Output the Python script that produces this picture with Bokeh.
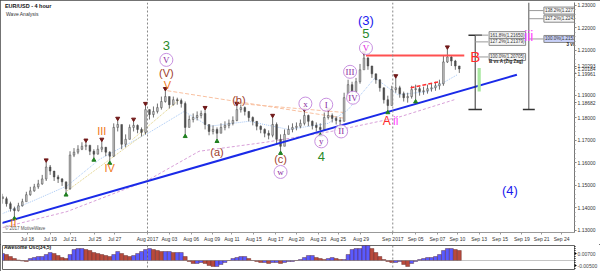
from bokeh.plotting import figure
from bokeh.models import Range1d, FixedTicker, PrintfTickFormatter, Span
from bokeh.layouts import column
from bokeh.embed import file_html
from bokeh.resources import INLINE
from bokeh.core.properties import value

FONT = "Liberation Sans"

# ---------------- price data (4-hour bars) ----------------
closes = [1.1441, 1.1419, 1.1397, 1.1388, 1.1410, 1.1428, 1.1459, 1.1476, 1.1494, 1.1507,
          1.1529, 1.1582, 1.1564, 1.1538, 1.1529, 1.1516, 1.1485, 1.1635, 1.1648, 1.1661,
          1.1674, 1.1679, 1.1652, 1.1639, 1.1661, 1.1670, 1.1648, 1.1630, 1.1758, 1.1771,
          1.1683, 1.1705, 1.1758, 1.1767, 1.1749, 1.1736, 1.1837, 1.1815, 1.1829, 1.1846,
          1.1873, 1.1895, 1.1859, 1.1881, 1.1877, 1.1864, 1.1758, 1.1793, 1.1802, 1.1811,
          1.1820, 1.1771, 1.1740, 1.1749, 1.1732, 1.1758, 1.1767, 1.1776, 1.1789, 1.1837,
          1.1846, 1.1829, 1.1802, 1.1785, 1.1763, 1.1749, 1.1732, 1.1723, 1.1771, 1.1705,
          1.1674, 1.1727, 1.1749, 1.1758, 1.1763, 1.1776, 1.1811, 1.1785, 1.1767, 1.1758,
          1.1749, 1.1802, 1.1811, 1.1798, 1.1789, 1.1785, 1.1890, 1.1948, 1.1917, 1.1961,
          1.2014, 1.2066, 1.2031, 1.1996, 1.1970, 1.1934, 1.1881, 1.1855, 1.1926, 1.1934,
          1.1908, 1.1890, 1.1895, 1.1926, 1.1930, 1.1917, 1.1921, 1.1930, 1.1934, 1.1943,
          1.1952, 1.2049, 1.2071, 1.2053, 1.2031, 1.2018]
highs = [1.1463, 1.1450, 1.1428, 1.1406, 1.1423, 1.1441, 1.1472, 1.1494, 1.1507, 1.1525,
         1.1547, 1.1604, 1.1591, 1.1564, 1.1547, 1.1533, 1.1511, 1.1652, 1.1666, 1.1679,
         1.1692, 1.1692, 1.1674, 1.1661, 1.1679, 1.1696, 1.1670, 1.1652, 1.1776, 1.1789,
         1.1767, 1.1727, 1.1771, 1.1785, 1.1771, 1.1758, 1.1855, 1.1837, 1.1851, 1.1864,
         1.1895, 1.1921, 1.1890, 1.1895, 1.1890, 1.1886, 1.1873, 1.1811, 1.1820, 1.1829,
         1.1833, 1.1837, 1.1763, 1.1767, 1.1758, 1.1776, 1.1785, 1.1793, 1.1807, 1.1855,
         1.1859, 1.1851, 1.1829, 1.1807, 1.1785, 1.1767, 1.1754, 1.1745, 1.1802, 1.1780,
         1.1727, 1.1749, 1.1767, 1.1776, 1.1780, 1.1793, 1.1829, 1.1815, 1.1789, 1.1780,
         1.1776, 1.1824, 1.1829, 1.1820, 1.1807, 1.1802, 1.1912, 1.1970, 1.1961, 1.1978,
         1.2040, 1.2080, 1.2071, 1.2031, 1.1996, 1.1970, 1.1934, 1.1899, 1.1943, 1.1978,
         1.1943, 1.1917, 1.1912, 1.1943, 1.1948, 1.1939, 1.1939, 1.1948, 1.1952, 1.1961,
         1.1970, 1.2075, 1.2106, 1.2075, 1.2058, 1.2031]
lows = [1.1419, 1.1406, 1.1384, 1.1362, 1.1384, 1.1406, 1.1432, 1.1454, 1.1472, 1.1485,
        1.1503, 1.1520, 1.1547, 1.1520, 1.1511, 1.1498, 1.1467, 1.1481, 1.1626, 1.1639,
        1.1657, 1.1657, 1.1635, 1.1622, 1.1639, 1.1648, 1.1630, 1.1608, 1.1626, 1.1740,
        1.1661, 1.1670, 1.1705, 1.1740, 1.1732, 1.1718, 1.1727, 1.1793, 1.1802, 1.1820,
        1.1837, 1.1868, 1.1842, 1.1855, 1.1859, 1.1846, 1.1727, 1.1767, 1.1780, 1.1789,
        1.1798, 1.1749, 1.1723, 1.1727, 1.1705, 1.1736, 1.1745, 1.1754, 1.1767, 1.1785,
        1.1824, 1.1811, 1.1785, 1.1767, 1.1745, 1.1732, 1.1714, 1.1705, 1.1714, 1.1683,
        1.1652, 1.1701, 1.1732, 1.1736, 1.1745, 1.1754, 1.1767, 1.1763, 1.1749, 1.1740,
        1.1732, 1.1745, 1.1793, 1.1780, 1.1771, 1.1767, 1.1785, 1.1899, 1.1899, 1.1908,
        1.1952, 1.2022, 1.2014, 1.1978, 1.1952, 1.1917, 1.1864, 1.1833, 1.1859, 1.1912,
        1.1890, 1.1873, 1.1868, 1.1886, 1.1881, 1.1899, 1.1903, 1.1908, 1.1917, 1.1921,
        1.1926, 1.1943, 1.2044, 1.2031, 1.2014, 1.2000]
first_open = 1.1450
opens = [first_open] + closes[:-1]          # FX 4h bars open at the previous close
bars = list(range(len(closes)))

# Awesome Oscillator (34,5) per bar
ao = [0.007, 0.006, 0.004, 0.002, 0.0005, -0.0005, -0.001, 0.002, 0.003, 0.004,
      0.004, 0.006, 0.008, 0.007, 0.005, 0.003, 0.002, 0.006, 0.011, 0.012,
      0.012, 0.011, 0.010, 0.008, 0.007, 0.006, 0.005, 0.004, 0.006, 0.009,
      0.007, 0.005, 0.004, 0.005, 0.007, 0.009, 0.011, 0.012, 0.011, 0.010,
      0.009, 0.009, 0.009, 0.008, 0.008, 0.008, 0.004, -0.001, -0.003, -0.003,
      -0.002, -0.003, -0.005, -0.006, -0.006, -0.004, -0.002, 0.0, 0.002, 0.003,
      0.004, 0.004, 0.002, 0.0, -0.001, -0.002, -0.002, -0.003, -0.002, -0.002,
      -0.003, -0.002, -0.001, -0.001, 0.0, 0.001, 0.003, 0.005, 0.005, 0.003,
      0.002, 0.001, 0.002, 0.003, 0.002, 0.001, 0.001, 0.006, 0.011, 0.012,
      0.012, 0.015, 0.015, 0.012, 0.008, 0.004, 0.001, -0.001, -0.002, -0.002,
      -0.001, -0.004, -0.006, -0.003, -0.001, 0.001, 0.002, 0.003, 0.003, 0.004,
      0.006, 0.010, 0.012, 0.012, 0.011, 0.010]

# x-axis date labels (bar positions)
tick_pos = [6.25, 12, 17, 23.25, 28.25, 36.5, 42, 47.5, 52.75, 57.75, 63.25, 68.75, 74,
            79.5, 84.5, 90.25, 98.25, 104, 109.5, 114.5, 120, 125.25, 130.75, 135.75, 140.75]
tick_labels = ["Jul 18", "Jul 19", "Jul 21", "Jul 25", "Jul 27", "Aug 2017", "Aug 03", "Aug 06",
               "Aug 09", "Aug 11", "Aug 15", "Aug 17", "Aug 20", "Aug 23", "Aug 25", "Aug 29",
               "Sep 2017", "Sep 05", "Sep 07", "Sep 10", "Sep 13", "Sep 15", "Sep 19", "Sep 21",
               "Sep 24"]
month_lines = [36.5, 98.25]
price_ticks = [1.13, 1.14, 1.15, 1.16, 1.17, 1.18, 1.19, 1.21, 1.22, 1.23]
# price markers shown on the right axis
axis_marks = [1.20293, 1.20184, 1.19961, 1.18682]
ao_ticks = [-0.005, 0.007]

peak_bars = [11, 21, 25, 29, 33, 36, 41, 51, 59, 68, 76, 82, 91, 99, 112]
trough_bars = [3, 16, 23, 27, 46, 54, 70, 80, 85, 97, 104]

# indicator / drawing lines (bar, price)
fast_ma_x = [0, 7.75, 16.25, 24.5, 37, 45.75, 52, 62, 72, 82, 87, 93.75, 99.5, 107, 114.5]
fast_ma_y = [1.1375, 1.1432, 1.1498, 1.1617, 1.1736, 1.1829, 1.1763, 1.1785, 1.1749, 1.1776,
             1.1837, 1.1978, 1.1903, 1.1917, 1.1992]
slow_ma_x = [0, 16.25, 36.25, 49.5, 66.25, 82.75, 99.5, 113.75]
slow_ma_y = [1.1313, 1.1384, 1.1520, 1.1652, 1.1692, 1.1740, 1.1802, 1.1881]
trend_x = [-0.5, 129.5]
trend_y = [1.1331, 1.1992]
resist_x = [91.5, 116.25]
resist_y = [1.2078, 1.2078]
red_dash_x = [102.75, 110]
red_dash_y = [1.1934, 1.1961]
peach_lines = [([41.5, 86.25], [1.1921, 1.1798]), ([59.5, 86.25], [1.1864, 1.1824])]
yellow_lines = [([16.25, 36.25], [1.1476, 1.1736]), ([32.75, 44.5], [1.1705, 1.1881])]

# wave labels: text, bar, price, colour, font size
wave_labels = [
    ("II", 2.75, 1.1331, "#f07818", "11px"), ("III", 25, 1.1740, "#f07818", "11px"),
    ("IV", 27, 1.1578, "#f07818", "11px"), ("V", 41.5, 1.1948, "#f07818", "11px"),
    ("(V)", 41.25, 1.2000, "#a0402a", "11px"), ("(a)", 54, 1.1648, "#a0402a", "11px"),
    ("(b)", 59.5, 1.1881, "#a0402a", "11px"), ("(c)", 70, 1.1617, "#a0402a", "11px"),
    ("3", 41.25, 1.2124, "#2a8a2a", "13px"), ("4", 80.25, 1.1630, "#2a8a2a", "13px"),
    ("5", 91.5, 1.2177, "#2a8a2a", "13px"), ("(3)", 91.5, 1.2234, "#1a1aee", "13px"),
    ("(4)", 127.75, 1.1476, "#1a1aee", "13px"), ("A", 96.75, 1.1785, "#ff2a2a", "12px"),
    ("B", 119, 1.2071, "#ff2a2a", "15px"), ("ii", 99, 1.1785, "#ff44ff", "12px"),
    ("iii", 132.5, 1.2163, "#ff44ff", "14px"),
]
circle_labels = [
    ("V", 41.25, 1.2058, "#8a2aa0"), ("w", 70, 1.1560, "#8a2aa0"), ("x", 76.25, 1.1864, "#8a2aa0"),
    ("y", 80.25, 1.1696, "#8a2aa0"), ("I", 81.5, 1.1859, "#8a2aa0"), ("II", 85.25, 1.1740, "#8a2aa0"),
    ("III", 87.5, 1.2005, "#8a2aa0"), ("IV", 88.25, 1.1890, "#8a2aa0"), ("V", 91.5, 1.2111, "#e020e0"),
]

# Fibonacci projection tools
fib1_bar = 119
fib1_span = [1.2168, 1.1837]
fib1_levels = [1.2168, 1.2138, 1.2071]
fib1_texts = ["161.8%(1.21650)", "127.2%(1.21379)", "100.0%(1.20705)"]
fib2_bar = 132.5
fib2_span = [1.2313, 1.1837]
fib2_levels = [1.22771, 1.22410, 1.21510]
fib2_texts = ["138.2%(1.22771)", "127.2%(1.22410)", "100.0%(1.21510)"]
green_zone = [1.2022, 1.1917]

# ---------------- main price panel ----------------
p1 = figure(width=600, height=244, x_range=Range1d(0, 144), y_range=Range1d(1.1291, 1.2313),
            output_backend="svg", toolbar_location=None, y_axis_location="right",
            min_border_left=2, min_border_top=2, min_border_right=22, min_border_bottom=0)
p1.grid.visible = False
p1.outline_line_color = None
p1.background_fill_color = "white"
p1.border_fill_color = "white"

ya = p1.yaxis[0]
ya.ticker = FixedTicker(ticks=price_ticks + axis_marks,
                        minor_ticks=[1.13 + 0.002 * k for k in range(0, 51)])
ya.formatter = PrintfTickFormatter(format="%.5f")
ya.major_label_text_font = FONT
ya.major_label_text_font_size = "5px"
ya.major_label_text_color = "#333"
ya.major_tick_out = 2
ya.major_tick_in = 0
ya.minor_tick_out = 1
ya.minor_tick_in = 0
ya.major_label_standoff = 1
ya.axis_line_color = "#777"
ya.major_tick_line_color = "#777"
ya.minor_tick_line_color = "#999"

xa = p1.xaxis[0]
xa.ticker = FixedTicker(ticks=tick_pos)
xa.major_label_overrides = dict(zip(tick_pos, tick_labels))
xa.major_label_text_font = FONT
xa.major_label_text_font_size = "5px"
xa.major_label_text_color = "#333"
xa.major_tick_out = 2
xa.major_tick_in = 0
xa.minor_tick_line_color = None
xa.major_label_standoff = 1
xa.axis_line_color = "#999"
xa.major_tick_line_color = "#999"

for m in month_lines:
    p1.add_layout(Span(location=m, dimension="height", line_color="#888",
                       line_dash="2 2", line_width=1))

# indicator lines
p1.line(slow_ma_x, slow_ma_y, line_color="#d8a0d8", line_dash="3 2", line_width=1)
p1.line(fast_ma_x, fast_ma_y, line_color="#a8c8f4", line_dash="1 1", line_width=1)
for xs, ys in peach_lines:
    p1.line(xs, ys, line_color="#f8c0a0", line_dash="4 2", line_width=1)
for xs, ys in yellow_lines:
    p1.line(xs, ys, line_color="#e0d080", line_dash="1 1", line_width=1)

# candles
up = [c >= o for o, c in zip(opens, closes)]
p1.segment(x0=bars, y0=lows, x1=bars, y1=highs, line_color="#707070", line_width=1)
p1.vbar(x=bars, width=0.42, top=[max(o, c) for o, c in zip(opens, closes)],
        bottom=[min(o, c) for o, c in zip(opens, closes)],
        fill_color=["#c8c8c8" if u else "#505050" for u in up], line_color="#444",
        line_width=0.5)

# trend / resistance lines
p1.line(trend_x, trend_y, line_color="#1a2ae8", line_width=2)
p1.line(resist_x, resist_y, line_color="#ff5050", line_width=2)
p1.line(red_dash_x, red_dash_y, line_color="#ff3030", line_width=1.5, line_dash="4 2")

# swing markers
p1.scatter([bars[i] for i in peak_bars], [highs[i] + 0.0009 for i in peak_bars],
           marker="inverted_triangle", size=4, fill_color="#701818", line_color="#701818")
p1.scatter([bars[i] for i in trough_bars], [lows[i] - 0.0009 for i in trough_bars],
           marker="triangle", size=4, fill_color="#208020", line_color="#208020")

# fib tool 1
p1.segment(x0=[fib1_bar], y0=[fib1_span[0]], x1=[fib1_bar], y1=[fib1_span[1]],
           line_color="#333", line_width=1)
p1.segment(x0=[fib1_bar - 1.7] * 2, y0=fib1_span, x1=[fib1_bar + 1.7] * 2, y1=fib1_span,
           line_color="#333", line_width=1.5)
p1.segment(x0=[fib1_bar] * 3, y0=fib1_levels, x1=[fib1_bar + 3.3] * 3, y1=fib1_levels,
           line_color="#999", line_width=1)
p1.text(x=[fib1_bar + 3.5] * 3, y=fib1_levels, text=fib1_texts, text_font=value(FONT),
        text_font_size="4.5px", text_color="#333", text_baseline="middle", text_align="left",
        background_fill_color="#f6f6f6", border_line_color="#888", padding=1)
p1.text(x=[fib1_bar + 3.5], y=[fib1_levels[2] - 0.0022], text=["B vs A (Zig Zag)"],
        text_font=value(FONT), text_font_size="4.5px", text_font_style="bold",
        text_color="#222", text_baseline="middle", text_align="left")
p1.quad(left=[fib1_bar + 0.6], right=[fib1_bar + 1.4], top=[green_zone[0]], bottom=[green_zone[1]],
        fill_color="#a8e8a0", line_color=None)

# fib tool 2
p1.segment(x0=[fib2_bar], y0=[fib2_span[0]], x1=[fib2_bar], y1=[fib2_span[1]],
           line_color="#555", line_width=1)
p1.segment(x0=[fib2_bar - 1.5], y0=[fib2_span[1]], x1=[fib2_bar + 1.5], y1=[fib2_span[1]],
           line_color="#333", line_width=1.5)
p1.segment(x0=[fib2_bar] * 3, y0=fib2_levels, x1=[fib2_bar + 3.7] * 3, y1=fib2_levels,
           line_color="#999", line_width=1)
p1.text(x=[fib2_bar + 3.8] * 3, y=fib2_levels, text=fib2_texts, text_font=value(FONT),
        text_font_size="4.5px", text_color="#333", text_baseline="middle", text_align="left",
        background_fill_color=["#f6f6f6", "#f6f6f6", "#c8d0f8"], border_line_color="#888", padding=1)
p1.text(x=[fib2_bar + 9.5], y=[fib2_levels[2] - 0.0025], text=["3 vs 1"],
        text_font=value(FONT), text_font_size="4.5px", text_font_style="bold",
        text_color="#222", text_baseline="middle", text_align="left")

# wave labels
for t, bx, py, col, fs in wave_labels:
    p1.text(x=[bx], y=[py], text=[t], text_color=col, text_font=value(FONT),
            text_font_size=fs, text_align="center", text_baseline="middle")
p1.scatter([c[1] for c in circle_labels], [c[2] for c in circle_labels], marker="circle",
           size=13, fill_color="white", fill_alpha=0.9, line_color="#c890e0", line_width=1)
p1.text(x=[c[1] for c in circle_labels], y=[c[2] for c in circle_labels],
        text=[c[0] for c in circle_labels], text_color=[c[3] for c in circle_labels],
        text_font=value("Liberation Serif"), text_font_size="9px",
        text_align="center", text_baseline="middle")

# titles
p1.text(x=[0.6], y=[1.2310], text=["EUR/USD - 4 hour"], text_font=value(FONT),
        text_font_size="5.5px", text_font_style="bold", text_color="#111",
        text_baseline="top", text_align="left")
p1.text(x=[0.9], y=[1.2276], text=["Wave Analysis"], text_font=value(FONT),
        text_font_size="5px", text_color="#333", text_baseline="top", text_align="left")
p1.text(x=[0.6], y=[1.1309], text=["\u00a9 2017 MotiveWave"], text_font=value(FONT),
        text_font_size="4.5px", text_color="#555", text_baseline="middle", text_align="left")

# ---------------- Awesome oscillator panel ----------------
p2 = figure(width=600, height=27, x_range=p1.x_range, y_range=Range1d(-0.009, 0.015),
            output_backend="svg", toolbar_location=None, y_axis_location="right",
            min_border_left=2, min_border_top=1, min_border_right=22, min_border_bottom=2)
p2.grid.visible = False
p2.xaxis.visible = False
p2.outline_line_color = "#666"
ya2 = p2.yaxis[0]
ya2.ticker = FixedTicker(ticks=ao_ticks, minor_ticks=[-0.008, -0.006, -0.004, -0.002, 0.0, 0.002,
                                                      0.004, 0.006, 0.008, 0.010, 0.012, 0.014])
ya2.formatter = PrintfTickFormatter(format="%.5f")
ya2.major_label_text_font = FONT
ya2.major_label_text_font_size = "5px"
ya2.major_tick_out = 2
ya2.major_tick_in = 0
ya2.minor_tick_out = 1
ya2.minor_tick_in = 0
ya2.major_label_standoff = 1
ya2.axis_line_color = "#777"

p2.add_layout(Span(location=0, dimension="width", line_color="#888", line_dash="1 1"))
for m in month_lines:
    p2.add_layout(Span(location=m, dimension="height", line_color="#888",
                       line_dash="2 2", line_width=1))
ao_cols = ["#5a5aff" if (k == 0 or ao[k] >= ao[k - 1]) else "#b84a3c" for k in range(len(ao))]
p2.vbar(x=bars, width=1.0, top=ao, bottom=0, fill_color=ao_cols, line_color="#552222",
        line_width=0.4)
p2.text(x=[0.4], y=[0.0135], text=["Awesome Osc(34,5)"], text_font=value(FONT),
        text_font_size="5px", text_font_style="bold", text_color="#111",
        text_baseline="middle", text_align="left")

layout = column(p1, p2, spacing=0,
                styles={"outline": "1px solid #444", "outline-offset": "-1px"})
open("out.html", "w").write(file_html(layout, INLINE))
